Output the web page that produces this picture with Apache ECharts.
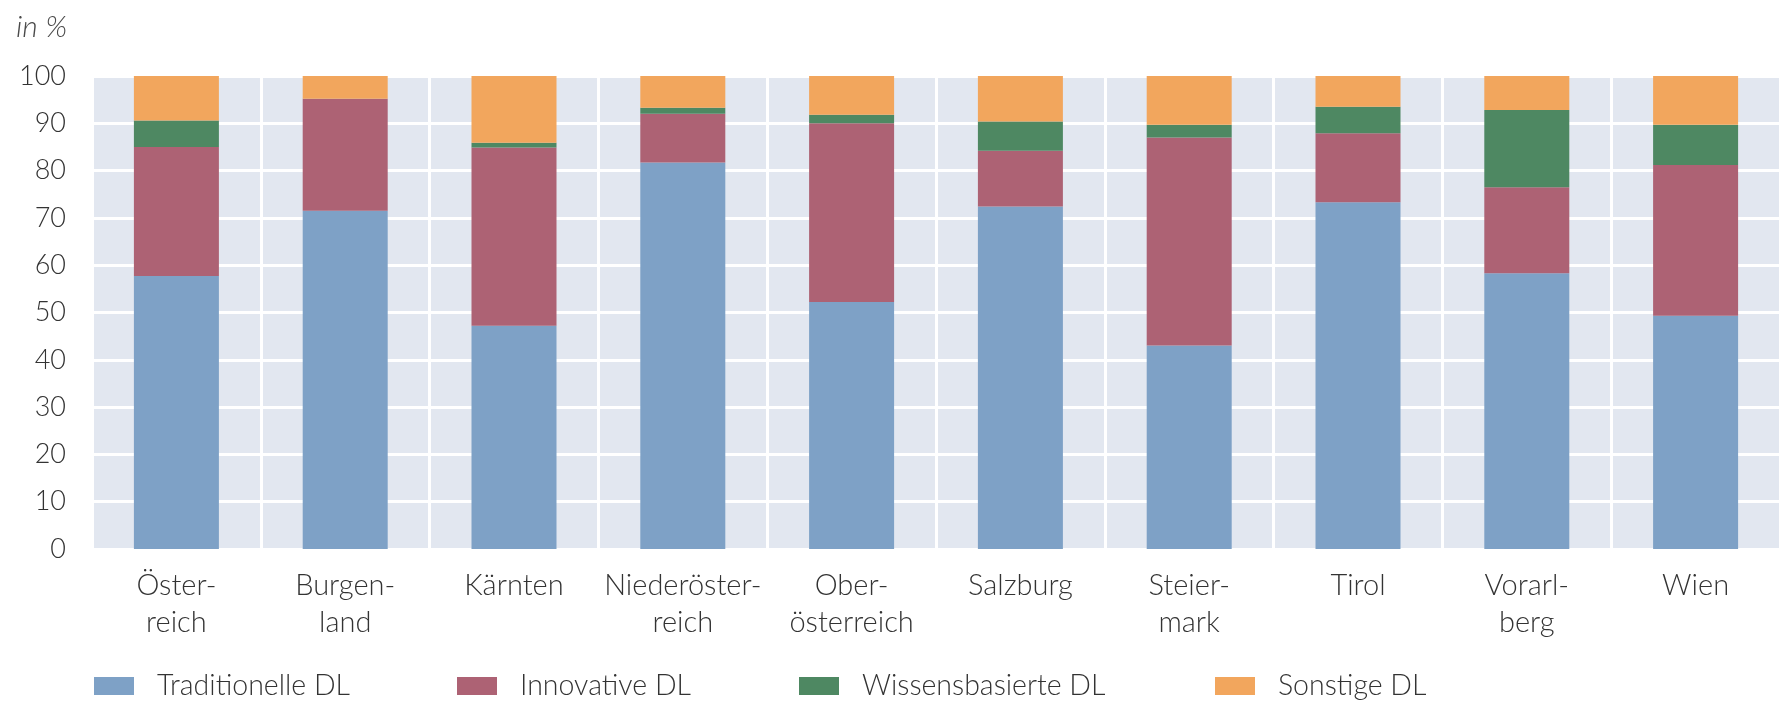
<!DOCTYPE html>
<html>
<head>
<meta charset="utf-8">
<script src="https://cdn.jsdelivr.net/npm/echarts@6/dist/echarts.min.js"></script>
<style>
html,body{margin:0;padding:0;background:#fff;}
#main{width:1780px;height:702px;}
</style>
</head>
<body>
<div id="main"></div>
<script>
const categories = ['Öster-\nreich', 'Burgen-\nland', 'Kärnten', 'Niederöster-\nreich', 'Ober-\nösterreich', 'Salzburg', 'Steier-\nmark', 'Tirol', 'Vorarl-\nberg', 'Wien'];
const seriesNames = ['Traditionelle DL', 'Innovative DL', 'Wissensbasierte DL', 'Sonstige DL'];
const traditionelle = [57.7, 71.5, 47.2, 81.7, 52.2, 72.4, 43.0, 73.3, 58.3, 49.3];
const innovative    = [27.3, 23.7, 37.7, 10.3, 37.8, 11.8, 44.0, 14.6, 18.2, 31.9];
const wissensbasiert= [5.6, 0.0, 1.0, 1.3, 1.8, 6.2, 2.7, 5.6, 16.3, 8.5];
const sonstige      = [9.4, 4.8, 14.1, 6.7, 8.2, 9.6, 10.3, 6.5, 7.2, 10.3];
const yTicks = {min: 0, max: 100, interval: 10};
const unitLabel = 'in %';

const colors = ['#7ea1c6', '#ad6274', '#4e8862', '#f2a65d'];
const values = [traditionelle, innovative, wissensbasiert, sonstige];
const FONT = 'Lato, "DejaVu Sans", sans-serif';
const legendLefts = [94, 457, 799, 1215];

const chart = echarts.init(document.getElementById('main'), null, {renderer: 'canvas'});
chart.setOption({
  animation: false,
  color: colors,
  title: {
    text: unitLabel, left: 16, top: 12, padding: 0,
    textStyle: {fontFamily: FONT, fontStyle: 'italic', fontWeight: 300, fontSize: 30, color: '#4a4a4a'}
  },
  legend: seriesNames.map((n, i) => ({
    data: [n], left: legendLefts[i], top: 671, padding: 0,
    icon: 'rect', itemWidth: 40, itemHeight: 18,
    textStyle: {fontFamily: FONT, fontWeight: 300, fontSize: 28.5, color: '#333333', lineHeight: 30, padding: [0, 0, 0, 18]}
  })),
  grid: {
    left: 92, top: 76, width: 1703, height: 473,
    show: true, backgroundColor: '#e2e7f0', borderWidth: 0,
    containLabel: false
  },
  xAxis: {
    type: 'category', data: categories,
    axisLine: {show: false}, axisTick: {show: false},
    splitLine: {show: true, interval: 0, lineStyle: {color: '#ffffff', width: 3}},
    axisLabel: {interval: 0, margin: 18, fontFamily: FONT, fontWeight: 300, fontSize: 29, lineHeight: 37, color: '#333333', align: 'center'}
  },
  yAxis: {
    type: 'value', min: yTicks.min, max: yTicks.max, interval: yTicks.interval,
    axisLine: {show: false}, axisTick: {show: false},
    splitLine: {show: true, lineStyle: {color: '#ffffff', width: 3}},
    axisLabel: {margin: 26, fontFamily: FONT, fontWeight: 300, fontSize: 27, color: '#333333', padding: [14, 0, 0, 0]}
  },
  series: seriesNames.map((n, i) => ({
    name: n, type: 'bar', stack: 'total', barWidth: 85,
    data: values[i],
    itemStyle: {color: colors[i]}
  }))
});
</script>
</body>
</html>
